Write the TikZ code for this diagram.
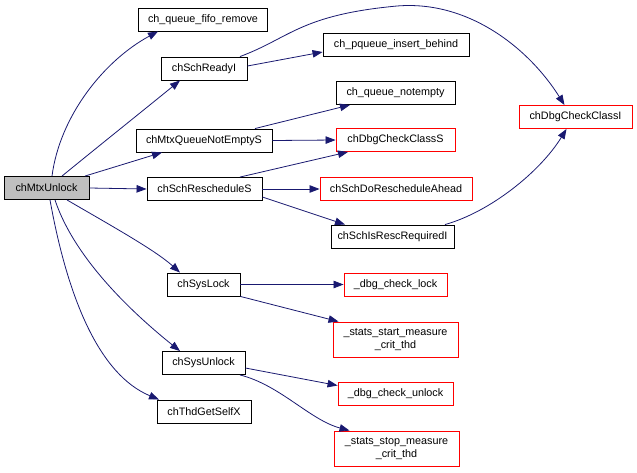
\documentclass[tikz,border=0pt]{standalone}
\usepackage{fontspec}
\setmainfont{Liberation Sans}
\usetikzlibrary{arrows.meta}
\definecolor{edgeblue}{HTML}{191970}
\definecolor{nodegray}{HTML}{BFBFBF}
\definecolor{nodered}{HTML}{FF0000}
\tikzset{
  box/.style={draw=black, line width=0.9pt, fill=white, rectangle, minimum height=23pt, inner sep=0pt, font=\fontsize{10.8}{12.5}\selectfont, align=center},
  redbox/.style={box, draw=nodered},
  graybox/.style={box, fill=nodegray},
  tallbox/.style={minimum height=35pt},
  edge/.style={draw=edgeblue, line width=0.8pt, -{Triangle[length=10pt,width=7.5pt]}},
}
\begin{document}
\begin{tikzpicture}[x=1pt,y=-1pt]
\useasboundingbox (0,0) rectangle (637,472);
% nodes
\node[graybox, minimum width=85pt] (mu) at (46.5,188) {chMtxUnlock};
\node[box, minimum width=129pt] (qfr) at (203,19.5) {ch\_queue\_fifo\_remove};
\node[box, minimum width=86pt] (ready) at (204,68.5) {chSchReadyI};
\node[box, minimum width=146pt] (pq) at (396,44.5) {ch\_pqueue\_insert\_behind};
\node[box, minimum width=119pt] (qne) at (395.5,93) {ch\_queue\_notempty};
\node[redbox, minimum width=113pt] (dbgI) at (575.5,117) {chDbgCheckClassI};
\node[box, minimum width=136pt] (mqne) at (204,140.5) {chMtxQueueNotEmptyS};
\node[box, minimum width=115pt] (resch) at (204.5,189) {chSchRescheduleS};
\node[redbox, minimum width=119pt] (dbgS) at (395.5,140) {chDbgCheckClassS};
\node[redbox, minimum width=152pt] (doresch) at (396,189) {chSchDoRescheduleAhead};
\node[box, minimum width=123pt] (isresc) at (392.5,236.5) {chSchIsRescRequiredI};
\node[box, minimum width=73pt] (syslock) at (203.5,284.5) {chSysLock};
\node[redbox, minimum width=103pt] (dbglock) at (395.5,284.5) {\_dbg\_check\_lock};
\node[redbox, tallbox, minimum width=125pt] (statsstart) at (395.5,339.5) {\_stats\_start\_measure\\\_crit\_thd};
\node[box, minimum width=83pt] (sysunlock) at (203.5,363) {chSysUnlock};
\node[redbox, minimum width=115pt] (dbgunlock) at (395.5,393.5) {\_dbg\_check\_unlock};
\node[box, minimum width=94pt] (selfx) at (204,411.5) {chThdGetSelfX};
\node[redbox, tallbox, minimum width=125pt] (statsstop) at (396.5,448.5) {\_stats\_stop\_measure\\\_crit\_thd};
% edges from chMtxUnlock
\draw[edge] ([xshift=5.5pt]mu.north) .. controls (60,115) and (105,60) .. ([xshift=-45pt]qfr.south);
\draw[edge] ([xshift=15.5pt]mu.north) .. controls (100,145) and (150,105) .. ([xshift=-24pt]ready.south);
\draw[edge] ([xshift=38.5pt]mu.north) -- ([xshift=-42pt]mqne.south);
\draw[edge] (mu.east) -- (resch.west);
\draw[edge] ([xshift=20.5pt]mu.south) .. controls (110,225) and (155,250) .. ([xshift=-23.5pt]syslock.north);
\draw[edge] ([xshift=8.5pt]mu.south) .. controls (75,260) and (135,315) .. ([xshift=-23.5pt]sysunlock.north);
\draw[edge] ([xshift=3.5pt]mu.south) .. controls (68,300) and (100,375) .. ([xshift=-45pt]selfx.north);
% chSchReadyI
\draw[edge] ([xshift=36pt]ready.north) .. controls (290,38) and (300,15) .. (397,6) .. controls (470,0) and (530,50) .. ([xshift=-11pt]dbgI.north);
\draw[edge] ([yshift=2.5pt]ready.east) -- ([yshift=-7.5pt]pq.west);
% chMtxQueueNotEmptyS
\draw[edge] ([xshift=51pt]mqne.north) -- ([xshift=-45.5pt]qne.south);
\draw[edge] (mqne.east) -- (dbgS.west);
% chSchRescheduleS
\draw[edge] ([xshift=35.5pt]resch.north) -- ([xshift=-47.5pt]dbgS.south);
\draw[edge] (resch.east) -- (doresch.west);
\draw[edge] ([yshift=-8pt]resch.east) -- ([xshift=-47.5pt]isresc.north);
% chSchIsRescRequiredI
\draw[edge] ([xshift=52.5pt]isresc.north) .. controls (490,212) and (540,172) .. ([xshift=-9pt]dbgI.south);
% chSysLock
\draw[edge] (syslock.east) -- (dbglock.west);
\draw[edge] (syslock.south east) -- ([xshift=-57pt]statsstart.north);
% chSysUnlock
\draw[edge] ([yshift=-5pt]sysunlock.east) -- ([yshift=8pt]dbgunlock.west);
\draw[edge] ([xshift=36.5pt]sysunlock.south) .. controls (280,385) and (310,420) .. ([xshift=-47pt]statsstop.north);
\end{tikzpicture}
\end{document}
